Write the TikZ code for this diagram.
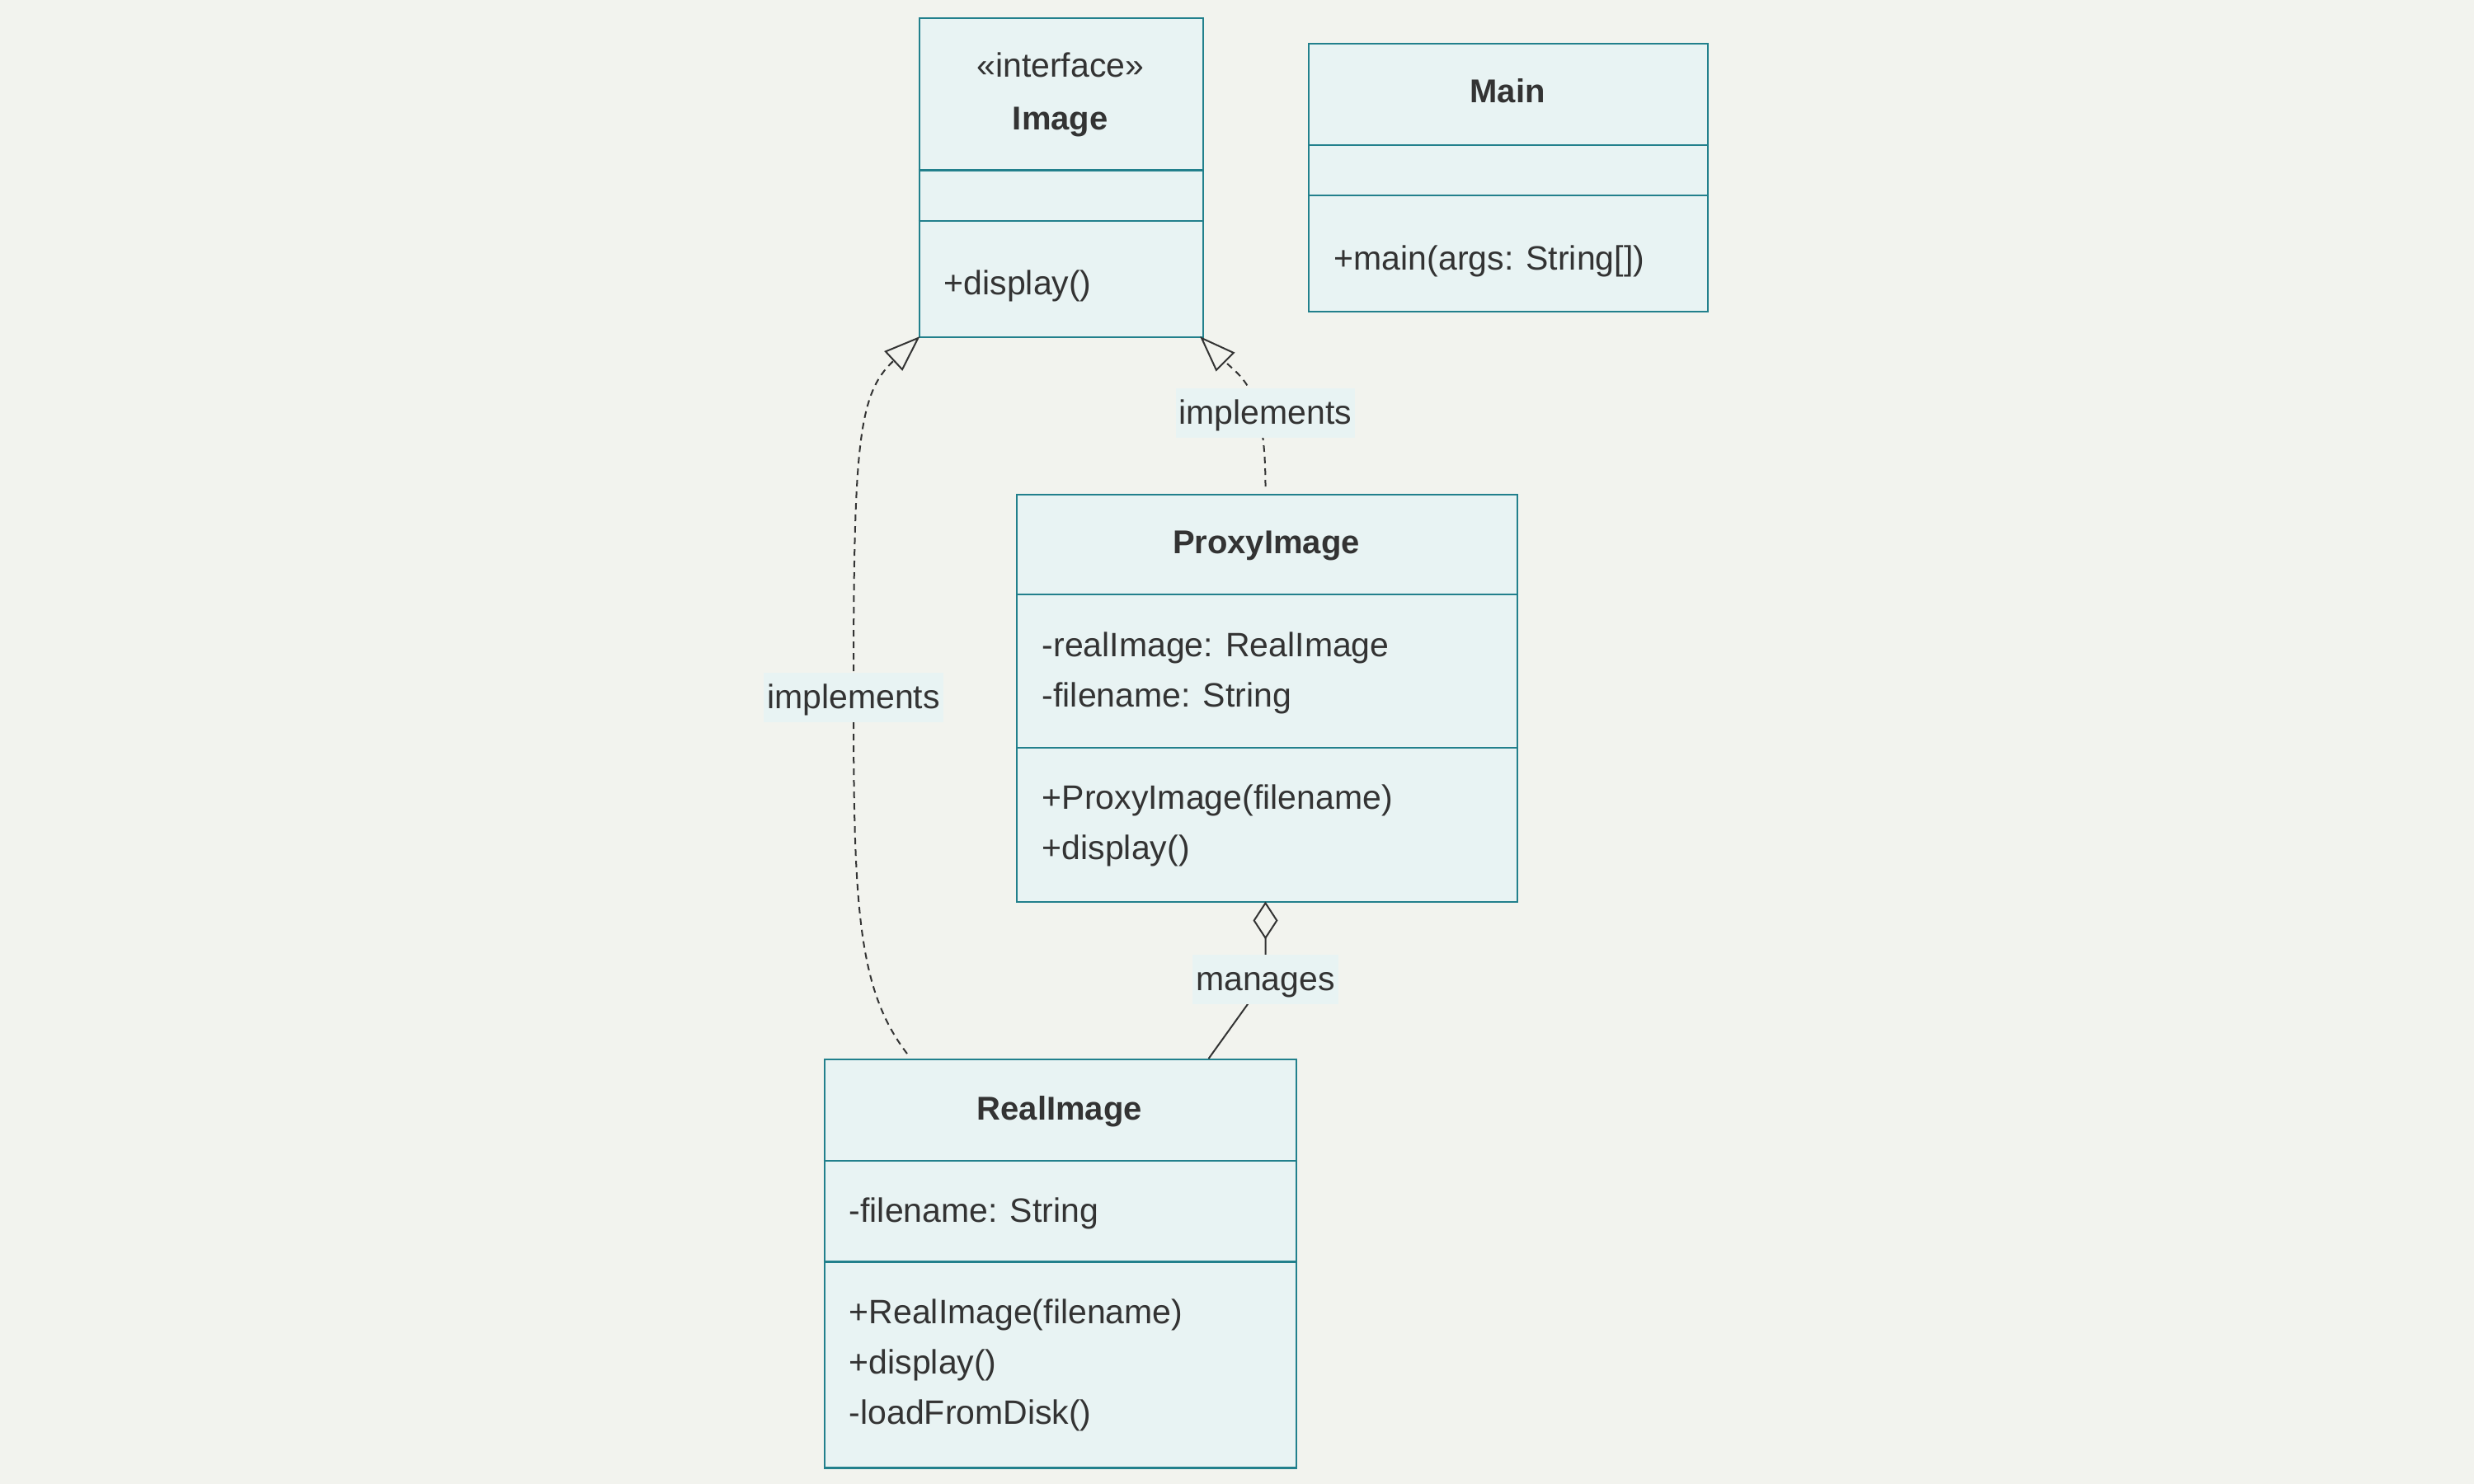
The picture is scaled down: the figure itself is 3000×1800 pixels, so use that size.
\documentclass[tikz,border=0pt]{standalone}
\usepackage{fontspec}
\setmainfont{Liberation Sans}
\usetikzlibrary{arrows.meta}
\definecolor{bgc}{HTML}{F2F3EE}
\definecolor{boxfill}{HTML}{E8F3F3}
\definecolor{boxline}{HTML}{22808C}
\definecolor{txt}{HTML}{333333}
\definecolor{edgec}{HTML}{333333}
\tikzset{
  umlbox/.style={draw=boxline, fill=boxfill, line width=0.6pt, inner sep=0pt, anchor=north west},
  divider/.style={draw=boxline, line width=0.6pt},
  linebox/.style={text height=0.905em, text depth=0.212em},
  ttl/.style={linebox, font=\bfseries, text=txt, inner sep=0pt},
  stereo/.style={linebox, text=txt, inner sep=0pt},
  member/.style={linebox, text=txt, inner sep=0pt, anchor=west},
  lbl/.style={linebox, fill=boxfill, text=txt, inner xsep=1pt, inner ysep=1.9pt},
  edge/.style={draw=edgec, line width=0.5pt},
  dashedge/.style={edge, dash pattern=on 2pt off 1.5pt},
  realizes/.style={-{Triangle[open, length=11pt, width=8pt, line width=0.5pt]}},
  aggr/.style={-{Diamond[open, length=11.5pt, width=7.5pt, line width=0.5pt]}}
}
\begin{document}
\begin{tikzpicture}[x=0.25pt, y=-0.25pt, font=\fontsize{10.25pt}{15.4pt}\selectfont]
\fill[bgc] (0,0) rectangle (3000,1800);
\useasboundingbox (0,0) rectangle (3000,1800);

% Image
\node[umlbox, minimum width=344.5*0.25pt, minimum height=386.5*0.25pt] (img) at (1113.5,21) {};
\draw[divider] (img.west |- 0,206.6) -- (img.east |- 0,206.6);
\draw[divider] (img.west |- 0,267.9) -- (img.east |- 0,267.9);
\node[stereo] (imgst) at (1285.75,80) {«interface»};
\node[ttl] (imgt) at (1285.75,143.5) {Image};
\node[member] (imgm1) at (1144,344) {+display()};

% Main
\node[umlbox, minimum width=484*0.25pt, minimum height=325.3*0.25pt] (mainb) at (1586,51.7) {};
\draw[divider] (mainb.west |- 0,176) -- (mainb.east |- 0,176);
\draw[divider] (mainb.west |- 0,237) -- (mainb.east |- 0,237);
\node[ttl] (maint) at (1828,111) {Main};
\node[member] (mainm1) at (1617,314) {+main(args: String[])};

% ProxyImage
\node[umlbox, minimum width=606.7*0.25pt, minimum height=493.5*0.25pt] (prox) at (1232,599) {};
\draw[divider] (prox.west |- 0,721) -- (prox.east |- 0,721);
\draw[divider] (prox.west |- 0,907) -- (prox.east |- 0,907);
\node[ttl] (proxt) at (1535.4,658) {ProxyImage};
\node[member] (proxa1) at (1263,782.5) {-realImage: RealImage};
\node[member] (proxa2) at (1263,843.8) {-filename: String};
\node[member] (proxm1) at (1263,968) {+ProxyImage(filename)};
\node[member] (proxm2) at (1263,1029) {+display()};

% RealImage
\node[umlbox, minimum width=572.1*0.25pt, minimum height=495.6*0.25pt] (real) at (998.7,1283.8) {};
\draw[divider] (real.west |- 0,1408) -- (real.east |- 0,1408);
\draw[divider] (real.west |- 0,1530.6) -- (real.east |- 0,1530.6);
\node[ttl] (realt) at (1284.7,1345) {RealImage};
\node[member] (reala1) at (1029,1469) {-filename: String};
\node[member] (realm1) at (1029,1592) {+RealImage(filename)};
\node[member] (realm2) at (1029,1653) {+display()};
\node[member] (realm3) at (1029,1714) {-loadFromDisk()};

% connectors
\coordinate (pxs) at (1534.5,590);
\coordinate (l1) at (1534.5,501);
\coordinate (imgse) at (1455,408);
\draw[dashedge, realizes] (pxs) .. controls (1534.5,470) and (1505,458) .. (imgse);
\node[lbl] (lab1) at (l1) {implements};

\coordinate (rls) at (1100,1278);
\coordinate (l2) at (1035,846);
\coordinate (imgsw) at (1115.5,408);
\draw[dashedge, realizes] (rls) .. controls (1040,1200) and (1035,1100) .. (l2)
  .. controls (1035,540) and (1040,478) .. (imgsw);
\node[lbl] (lab2) at (l2) {implements};

\coordinate (rln) at (1465.6,1284);
\coordinate (l3) at (1534.5,1188);
\coordinate (pxb) at (1534.5,1093.5);
\draw[edge, aggr] (rln) -- (l3) -- (pxb);
\node[lbl] (lab3) at (l3) {manages};
\end{tikzpicture}
\end{document}
